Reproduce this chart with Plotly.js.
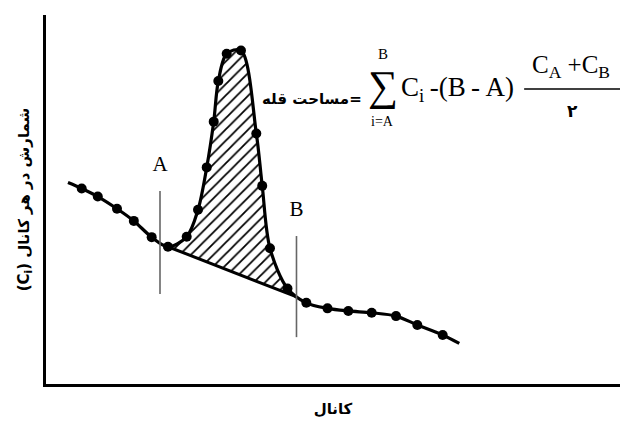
<!DOCTYPE html>
<html>
<head>
<meta charset="utf-8">
<script src="https://cdn.plot.ly/plotly-3.0.1.min.js"></script>
<style>html,body{margin:0;padding:0;background:#fff;}#chart{width:621px;height:421px;}</style>
</head>
<body>
<div id="chart"></div>
<script>
// Measured data points (channel, counts), arbitrary units 0-100
const channels = [6.22, 9.02, 12.37, 15.30, 18.41, 21.25, 24.51, 26.48, 28.0, 29.22, 30.02, 31.48, 33.97, 36.64, 37.67, 39.02, 42.07, 45.35, 49.04, 52.67, 56.74, 60.98, 64.69, 69.11];
const counts   = [53.0, 50.8, 47.5, 44.2, 39.8, 37.2, 39.9, 47.2, 58.7, 71.1, 82.1, 89.5, 90.4, 67.9, 53.7, 36.8, 25.9, 22.0, 20.5, 19.8, 19.3, 18.4, 16.0, 13.3];
// curve extends slightly beyond first / last dot
const curveStart = [3.83, 54.6];
const curveEnd   = [72.0, 11.0];
// peak region: index of A point and last peak point
const peakFirst = 5, peakLast = 16;
// point where peak meets baseline at B
const bMeet = [43.68, 23.6];
// A / B marker lines
const limitLabels = ['A', 'B'];
const limitX      = [19.86, 43.64];
const limitLow    = [24.4, 12.7];
const limitHigh   = [52.3, 40.1];
const limitLabelY = [59.1, 46.9];

const curveX = [curveStart[0]].concat(channels, [curveEnd[0]]);
const curveY = [curveStart[1]].concat(counts, [curveEnd[1]]);
const fillX = channels.slice(peakFirst, peakLast + 1).concat([bMeet[0]]);
const fillY = counts.slice(peakFirst, peakLast + 1).concat([bMeet[1]]);

const traces = [
  {x: fillX, y: fillY, mode: 'lines', fill: 'toself', line: {width: 0, shape: 'spline', color: '#000'},
   fillcolor: '#fff', fillpattern: {shape: '/', fgcolor: '#000', bgcolor: '#fff', size: 8, solidity: 0.22}, hoverinfo: 'skip'},
  {x: [channels[peakFirst], bMeet[0]], y: [counts[peakFirst], bMeet[1]], mode: 'lines', line: {color: '#000', width: 3}},
  {x: curveX, y: curveY, mode: 'lines', line: {color: '#000', width: 3.2, shape: 'spline', smoothing: 0.9}},
  {x: channels, y: counts, mode: 'markers', marker: {color: '#000', size: 10}}
];
limitLabels.forEach((lab, i) => {
  traces.push({x: [limitX[i], limitX[i]], y: [limitLow[i], limitHigh[i]], mode: 'lines', line: {color: '#666', width: 1.6}});
  traces.push({x: [limitX[i]], y: [limitLabelY[i]], mode: 'text', text: [lab], textposition: 'middle center',
    textfont: {family: 'Liberation Serif', size: 21, color: '#000'}});
});

const serif = 'Liberation Serif';
const layout = {
  width: 621, height: 421,
  margin: {l: 46, r: 1, t: 15, b: 37},
  showlegend: false,
  paper_bgcolor: '#fff', plot_bgcolor: '#fff',
  xaxis: {range: [0, 100], showgrid: false, zeroline: false, showticklabels: false, ticks: '',
    showline: true, linecolor: '#000', linewidth: 3,
    title: {text: 'کانال', font: {family: 'DejaVu Sans', size: 15, color: '#000', weight: 'bold'}, standoff: 18}},
  yaxis: {range: [0, 100], showgrid: false, zeroline: false, showticklabels: false, ticks: '',
    showline: true, linecolor: '#000', linewidth: 3,
    title: {text: '(C<sub>i</sub>) شمارش در هر کانال', font: {family: 'DejaVu Sans', size: 15, color: '#000', weight: 'bold'}, standoff: 10}},
  shapes: [
    {type: 'line', xref: 'paper', yref: 'paper', x0: 0.833, x1: 1.0, y0: 0.7995, y1: 0.7995, line: {color: '#000', width: 1.5}}
  ],
  annotations: [
    {xref: 'paper', yref: 'paper', x: 0.4634, y: 0.7724, xanchor: 'center', yanchor: 'middle', showarrow: false,
     text: 'مساحت قله=', font: {family: 'DejaVu Sans', size: 15, color: '#000', weight: 'bold'}},
    {xref: 'paper', yref: 'paper', x: 0.5871, y: 0.8080, xanchor: 'center', yanchor: 'middle', showarrow: false,
     text: '∑', font: {family: serif, size: 42, color: '#000'}},
    {xref: 'paper', yref: 'paper', x: 0.5871, y: 0.8930, xanchor: 'center', yanchor: 'middle', showarrow: false,
     text: 'B', font: {family: serif, size: 15, color: '#000'}},
    {xref: 'paper', yref: 'paper', x: 0.5854, y: 0.7110, xanchor: 'center', yanchor: 'middle', showarrow: false,
     text: 'i=A', font: {family: serif, size: 14, color: '#000'}},
    {xref: 'paper', yref: 'paper', x: 0.6150, y: 0.7995, xanchor: 'left', yanchor: 'middle', showarrow: false,
     text: 'C<sub>i</sub>\u2009-(B\u2009-\u2009A)', font: {family: serif, size: 27, color: '#000'}},
    {xref: 'paper', yref: 'paper', x: 0.9146, y: 0.8600, xanchor: 'center', yanchor: 'middle', showarrow: false,
     text: 'C<sub>A</sub> +C<sub>B</sub>', font: {family: serif, size: 25, color: '#000'}},
    {xref: 'paper', yref: 'paper', x: 0.9181, y: 0.7398, xanchor: 'center', yanchor: 'middle', showarrow: false,
     text: '۲', font: {family: 'DejaVu Sans', size: 17, color: '#000', weight: 'bold'}}
  ]
};
Plotly.newPlot('chart', traces, layout, {displayModeBar: false, staticPlot: true});
</script>
</body>
</html>
